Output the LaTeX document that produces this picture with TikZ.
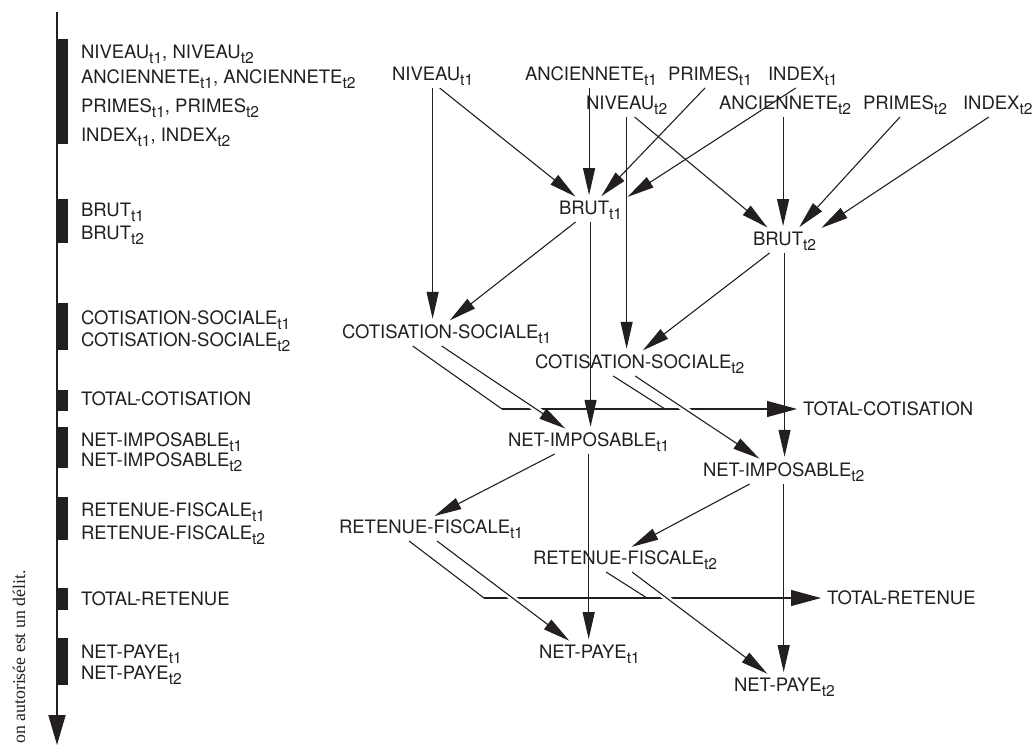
\documentclass[tikz,border=0pt]{standalone}
\usepackage{fontspec}
\setmainfont{TeX Gyre Heros}
\newfontfamily\serifmark{Liberation Serif}
\usetikzlibrary{arrows.meta, calc}
\definecolor{ink}{HTML}{231F20}
\newcommand{\tsub}[1]{\raisebox{-5.3pt}{\fontsize{15.6}{16}\selectfont #1}}
\tikzset{
  var/.style={
    inner sep=2pt,
    outer sep=0pt,
    anchor=base west,
    text=ink,
    font=\fontsize{18.5}{20}\selectfont
  },
  arrow/.style={
    line width=1.1pt,
    draw=ink,
    ->,
    >={Triangle[length=27pt, width=12pt]},
    shorten >=4pt
  },
  link/.style={
    line width=1.1pt,
    draw=ink
  },
  bigarrow/.style={
    line width=1.1pt,
    draw=ink,
    ->,
    >={Triangle[length=30pt, width=16pt]},
    shorten >=4pt
  },
  bridge/.style={
    preaction={draw=white, line width=6pt, -, shorten <=30pt, shorten >=20pt}
  },
  bar/.style={
    fill=ink
  },
  axis/.style={
    line width=1.8pt,
    draw=ink,
    ->,
    >={Triangle[length=30pt, width=17pt]}
  }
}

\begin{document}
\begin{tikzpicture}[x=1pt, y=-1pt]
  \useasboundingbox (0,0) rectangle (1036,745);

  % --- LEFT: ORDER OF COMPUTATION ---
  \coordinate (axtop) at (57,12);
  \coordinate (axbot) at (57,745);
  \draw[axis] (axtop) -- (axbot);
  \foreach \a/\b in {39/144, 199/243, 303/350, 390/411, 427/468, 497/540, 588/610, 638/685}
    \fill[bar] (56,\a) rectangle (68,\b);

  \node[var] (Lniv) at (79,58.3) {NIVEAU\tsub{t1}, NIVEAU\tsub{t2}};
  \node[var] (Lanc) at (79,83.6) {ANCIENNETE\tsub{t1}, ANCIENNETE\tsub{t2}};
  \node[var] (Lpri) at (79,112.6) {PRIMES\tsub{t1}, PRIMES\tsub{t2}};
  \node[var] (Lidx) at (79,141.6) {INDEX\tsub{t1}, INDEX\tsub{t2}};
  \node[var] (Lbrut1) at (79,216.6) {BRUT\tsub{t1}};
  \node[var] (Lbrut2) at (79,239.6) {BRUT\tsub{t2}};
  \node[var] (Lcot1) at (79,324.6) {COTISATION-SOCIALE\tsub{t1}};
  \node[var] (Lcot2) at (79,346.6) {COTISATION-SOCIALE\tsub{t2}};
  \node[var] (Ltotc) at (79,405.6) {TOTAL-COTISATION};
  \node[var] (Limp1) at (79,446.6) {NET-IMPOSABLE\tsub{t1}};
  \node[var] (Limp2) at (79,466.6) {NET-IMPOSABLE\tsub{t2}};
  \node[var] (Lret1) at (79,516.6) {RETENUE-FISCALE\tsub{t1}};
  \node[var] (Lret2) at (79,539.6) {RETENUE-FISCALE\tsub{t2}};
  \node[var] (Ltotr) at (79,605.6) {TOTAL-RETENUE};
  \node[var] (Lpay1) at (79,658.6) {NET-PAYE\tsub{t1}};
  \node[var] (Lpay2) at (79,679.6) {NET-PAYE\tsub{t2}};

  \node[font=\serifmark\fontsize{17.8}{19}\selectfont, text=ink, rotate=90, anchor=base west, inner sep=0pt] (mark) at (25,744) {on autorisée est un délit.};

  % --- RIGHT: DEPENDENCY GRAPH ---
  \node[var] (niv1) at (390,80.6) {NIVEAU\tsub{t1}};
  \node[var] (anc1) at (523,80.6) {ANCIENNETE\tsub{t1}};
  \node[var] (pri1) at (666,80.6) {PRIMES\tsub{t1}};
  \node[var] (idx1) at (766,80.6) {INDEX\tsub{t1}};
  \node[var] (niv2) at (584,109.6) {NIVEAU\tsub{t2}};
  \node[var] (anc2) at (717,109.6) {ANCIENNETE\tsub{t2}};
  \node[var] (pri2) at (861,109.6) {PRIMES\tsub{t2}};
  \node[var] (idx2) at (961,109.6) {INDEX\tsub{t2}};
  \node[var] (brut1) at (557,214.6) {BRUT\tsub{t1}};
  \node[var] (brut2) at (751,245.6) {BRUT\tsub{t2}};
  \node[var] (cot1) at (340,338.6) {COTISATION-SOCIALE\tsub{t1}};
  \node[var] (cot2) at (533,368.6) {COTISATION-SOCIALE\tsub{t2}};
  \node[var] (totc) at (801,415.6) {TOTAL-COTISATION};
  \node[var] (imp1) at (506,446.6) {NET-IMPOSABLE\tsub{t1}};
  \node[var] (imp2) at (701,476.6) {NET-IMPOSABLE\tsub{t2}};
  \node[var] (ret1) at (337,533.6) {RETENUE-FISCALE\tsub{t1}};
  \node[var] (ret2) at (531,564.6) {RETENUE-FISCALE\tsub{t2}};
  \node[var] (totr) at (825,604.6) {TOTAL-RETENUE};
  \node[var] (pay1) at (537,658.6) {NET-PAYE\tsub{t1}};
  \node[var] (pay2) at (732,691.6) {NET-PAYE\tsub{t2}};

  \coordinate (jc1) at (502,409);
  \coordinate (jc2) at (665,409);
  \coordinate (jr1) at (484,598);
  \coordinate (jr2) at (647,598);

  % inputs -> BRUT
  \draw[arrow] ([xshift=7pt]niv1.south) -- ([xshift=-12pt]brut1.north);
  \draw[arrow] ([xshift=-2pt]anc1.south) -- ([xshift=-2pt]anc1.south |- brut1.north);
  \draw[arrow] ([xshift=-5pt]pri1.south) -- ([xshift=8pt]brut1.north);
  \draw[arrow] ([xshift=-7pt]idx1.south) -- (brut1.north east);
  \draw[arrow] (niv1.south) -- (niv1.south |- cot1.north);
  \draw[arrow] ([xshift=8pt]niv2.south) -- ([xshift=-14pt]brut2.north);
  \draw[arrow] ([xshift=-2pt]anc2.south) -- ([xshift=-2pt]anc2.south |- brut2.north);
  \draw[arrow] ([xshift=-5pt]pri2.south) -- ([xshift=12pt]brut2.north);
  \draw[arrow] ([xshift=-9pt]idx2.south) -- (brut2.north east);
  \draw[arrow] (niv2.south) -- (niv2.south |- cot2.north);

  % BRUT -> COTISATION, NET-IMPOSABLE
  \draw[arrow] ([xshift=-15pt]brut1.south) -- (cot1.north);
  \draw[arrow] (brut1.south) -- (brut1.south |- imp1.north);
  \draw[arrow] ([xshift=-15pt]brut2.south) -- (cot2.north);
  \draw[arrow] (brut2.south) -- (brut2.south |- imp2.north);

  % TOTAL-COTISATION
  \draw[link] ([xshift=-34pt]cot1.south) -- (jc1);
  \draw[bigarrow] (jc1) -- (jc1 -| totc.west);
  \draw[link] ([xshift=-26.5pt]cot2.south) -- (jc2);
  \draw[arrow, bridge] ([xshift=-5pt]cot1.south) -- ([xshift=-20pt]imp1.north);
  \draw[arrow, bridge] ([xshift=-4.5pt]cot2.south) -- ([xshift=-21pt]imp2.north);

  % NET-IMPOSABLE -> RETENUE-FISCALE, NET-PAYE
  \draw[arrow] ([xshift=-34pt]imp1.south) -- (ret1.north);
  \draw[arrow] (imp1.south) -- (imp1.south |- pay1.north);
  \draw[arrow] ([xshift=-34pt]imp2.south) -- ([xshift=3pt]ret2.north);
  \draw[arrow] (imp2.south) -- (imp2.south |- pay2.north);

  % TOTAL-RETENUE
  \draw[link] ([xshift=-22pt]ret1.south) -- (jr1);
  \draw[bigarrow] (jr1) -- (jr1 -| totr.west);
  \draw[link] ([xshift=-19pt]ret2.south) -- (jr2);
  \draw[arrow, bridge] ([xshift=6pt]ret1.south) -- ([xshift=-17pt]pay1.north);
  \draw[arrow, bridge] ([xshift=7pt]ret2.south) -- ([xshift=-14pt]pay2.north);

\end{tikzpicture}
\end{document}
